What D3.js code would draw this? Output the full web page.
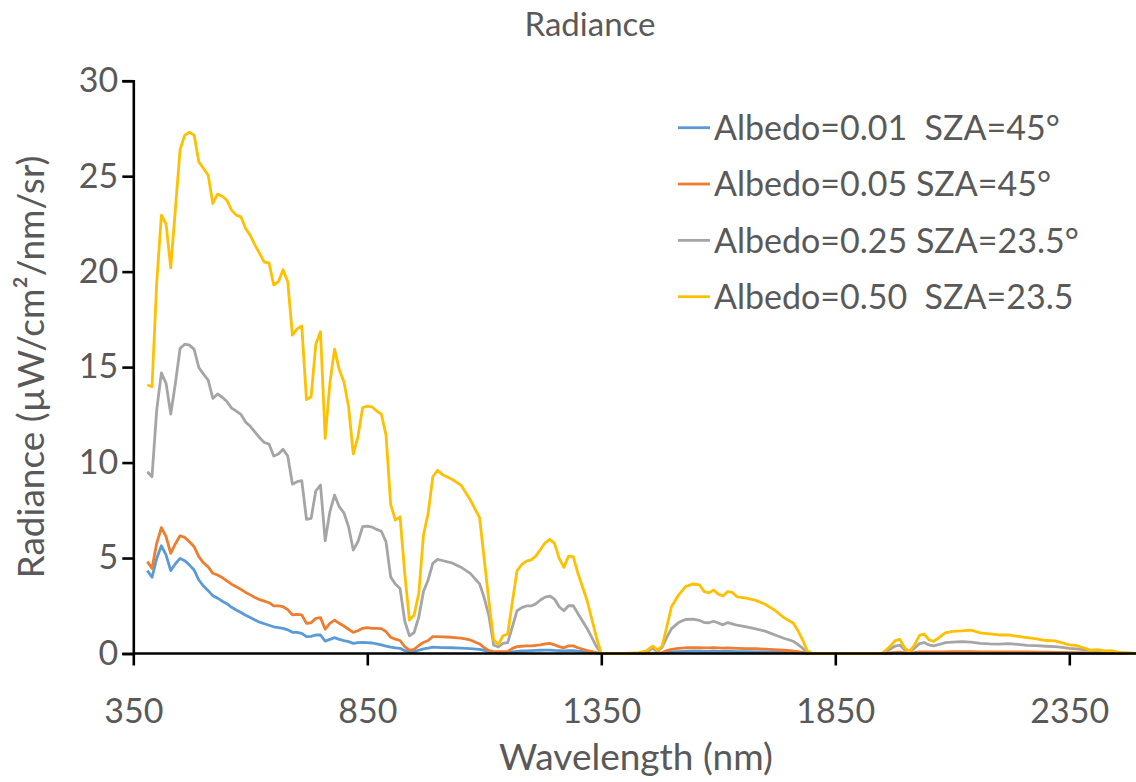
<!DOCTYPE html>
<html>
<head>
<meta charset="utf-8">
<script src="https://cdn.jsdelivr.net/npm/d3@7"></script>
<style>
  body { margin: 0; background: #fff; }
  text { font-family: Lato, "Open Sans", sans-serif; fill: #595959; }
</style>
</head>
<body>
<script>
// wavelength grid (nm), shared by all four series
const wavelength = [
  380,390,400,410,420,430,440,450,460,470,480,490,500,510,520,530,540,550,560,570,
  580,590,600,610,620,630,640,650,660,670,680,690,700,710,720,730,740,750,760,770,
  780,790,800,810,820,830,840,850,860,870,880,890,900,910,920,930,940,950,960,970,
  980,990,1000,1010,
  1030,1050,1070,1090,
  1100,1110,1120,1130,1140,1150,1160,1170,1180,1190,1200,1210,1220,1230,1240,1250,1260,1270,1280,1290,1300,
  1320,1340,1350,
  1400,1430,1445,1460,1470,1480,1490,1500,1515,1530,1545,1560,1570,1580,1590,1600,1610,1620,1630,1640,
  1660,1680,1700,1720,1740,1760,1770,1780,1790,1800,
  1950,1965,1978,1988,1998,2008,2018,2030,2040,2050,2060,2070,2085,2100,2120,2140,2160,2180,2200,2220,
  2240,2260,2280,2300,2320,2335,2350,2365,2380,2395,2410,2425,2440,2455,2470,2490,2500
];

const albedo001 = [
  4.34,3.99,4.98,5.64,5.16,4.34,4.7,4.98,4.86,4.63, 4.37,3.85,3.53,3.29,3.02,2.9,2.74,2.61,2.42,2.28,
  2.15,2.0,1.88,1.75,1.64,1.56,1.48,1.4,1.36,1.32, 1.24,1.11,1.11,1.06,0.88,0.9,0.97,0.97,0.65,0.74,
  0.83,0.74,0.67,0.62,0.53,0.57,0.58,0.57,0.55,0.5, 0.45,0.39,0.33,0.3,0.27,0.15,0.1,0.1,0.17,0.24,
  0.28,0.33,0.32,0.31,
  0.3,0.28,0.26,0.22,
  0.16,0.1,0.05,0.03,0.04,0.05,0.08,0.11,0.13,0.14,0.15,0.16,0.17,0.18,0.18,0.16,0.15,0.14,0.15,0.15,0.12,
  0.08,0.02,0,
  0,0,0,0.01,0.01,0.02,0.05,0.08,0.1,0.11, 0.12,0.12,0.11,0.11,0.12,0.11,0.11,0.11,0.11,0.1,
  0.1,0.09,0.09,0.08,0.07,0.05,0.04,0.02,0.01,0,
  0,0.01,0.02,0.02,0.01,0.01,0.01,0.02,0.03,0.02, 0.02,0.02,0.03,0.03,0.03,0.03,0.03,0.03,0.03,0.03,
  0.03,0.02,0.02,0.02,0.02,0.02,0.02,0.01,0.01,0.01, 0.01,0.01,0,0,0,0,0
];

const albedo005 = [
  4.81,4.46,5.77,6.59,6.12,5.25,5.75,6.17,6.08,5.85, 5.59,5.07,4.75,4.54,4.2,4.11,3.98,3.8,3.63,3.5,
  3.36,3.2,3.07,2.93,2.82,2.74,2.66,2.49,2.49,2.45, 2.3,2.02,2.05,2.02,1.58,1.61,1.84,1.88,1.27,1.58,
  1.75,1.58,1.44,1.27,1.11,1.19,1.32,1.35,1.32,1.32, 1.3,1.15,0.85,0.75,0.68,0.36,0.18,0.22,0.42,0.58,
  0.68,0.88,0.88,0.87,
  0.85,0.8,0.71,0.5,
  0.3,0.15,0.1,0.1,0.1,0.1,0.27,0.36,0.38,0.4,0.4,0.42,0.45,0.5,0.53,0.45,0.36,0.3,0.4,0.4,0.3,
  0.15,0.04,0,
  0,0,0,0.02,0.02,0.05,0.15,0.22,0.27,0.3, 0.31,0.3,0.29,0.29,0.3,0.29,0.28,0.29,0.28,0.27,
  0.26,0.25,0.23,0.2,0.17,0.13,0.1,0.06,0.02,0,
  0,0.03,0.06,0.07,0.04,0.03,0.05,0.08,0.09,0.08, 0.08,0.08,0.09,0.1,0.1,0.1,0.09,0.09,0.09,0.09,
  0.08,0.08,0.07,0.07,0.06,0.06,0.05,0.05,0.04,0.03, 0.03,0.02,0.02,0.01,0.01,0,0
];

const albedo025 = [
  9.52,9.26,12.75,14.7,14.15,12.54,14.15,15.98,16.2,16.15, 15.93,14.98,14.63,14.32,13.36,13.59,13.42,13.2,12.85,12.7,
  12.52,12.12,11.9,11.6,11.3,11.05,10.97,10.34,10.45,10.7, 10.34,8.87,9.0,9.05,7.03,7.08,8.52,8.82,5.9,7.42,
  8.3,7.69,7.37,6.64,5.42,5.85,6.64,6.67,6.62,6.5, 6.4,5.85,4.0,3.64,3.4,1.7,0.92,1.1,1.9,3.25,
  3.85,4.72,4.93,4.87,
  4.75,4.52,4.2,3.65,
  2.9,1.95,0.45,0.34,0.53,0.57,1.4,2.24,2.4,2.49,2.49,2.6,2.8,2.95,3.01,2.85,2.45,2.24,2.5,2.5,2.1,
  1.3,0.35,0,
  0,0.02,0.05,0.27,0.1,0.33,0.85,1.3,1.62,1.78, 1.8,1.73,1.62,1.61,1.69,1.6,1.5,1.62,1.55,1.48,
  1.4,1.29,1.17,0.98,0.8,0.64,0.48,0.28,0.05,0,
  0,0.2,0.39,0.44,0.2,0.1,0.25,0.52,0.57,0.45, 0.4,0.46,0.57,0.6,0.62,0.6,0.53,0.5,0.49,0.52,
  0.48,0.43,0.41,0.38,0.36,0.32,0.27,0.24,0.2,0.16, 0.13,0.11,0.08,0.05,0.03,0,0
];

const albedo050 = [
  14.06,13.97,19.4,22.96,22.5,20.2,23.3,26.4,27.15,27.3, 27.15,25.75,25.4,25.05,23.57,24.06,23.95,23.74,23.22,22.96,
  22.87,22.26,21.9,21.39,20.95,20.5,20.46,19.3,19.47,20.1, 19.47,16.67,17.0,17.15,13.3,13.45,16.2,16.85,11.27,14.15,
  15.94,14.88,14.23,12.92,10.45,11.35,12.87,12.96,12.92,12.7, 12.54,11.44,7.8,6.99,7.16,4.2,1.75,2.0,3.15,6.2,
  7.34,9.26,9.6,9.38,
  9.14,8.82,8.05,7.1,
  4.9,2.7,0.71,0.48,0.93,1.02,2.71,4.34,4.65,4.84,4.9,5.1,5.45,5.8,5.98,5.77,4.98,4.51,5.1,5.07,4.2,
  2.75,0.8,0,
  0,0.05,0.12,0.39,0.18,0.39,1.4,2.45,3.06,3.5, 3.64,3.59,3.24,3.18,3.32,3.11,3.01,3.24,3.2,2.97,
  2.9,2.78,2.58,2.28,1.88,1.6,1.2,0.72,0.15,0,
  0,0.33,0.67,0.74,0.3,0.1,0.4,0.95,1.02,0.72, 0.64,0.8,1.08,1.16,1.18,1.22,1.08,1.03,0.97,0.98,
  0.9,0.83,0.77,0.68,0.66,0.56,0.45,0.42,0.3,0.18, 0.2,0.14,0.15,0.06,0.03,0,0
];

const seriesNames = [
  "Albedo=0.01  SZA=45°",
  "Albedo=0.05 SZA=45°",
  "Albedo=0.25 SZA=23.5°",
  "Albedo=0.50  SZA=23.5"
];
const seriesValues = [albedo001, albedo005, albedo025, albedo050];
const colors = ["#5B9BD5", "#ED7D31", "#A5A5A5", "#FFC000"];

const xTicks = [350, 850, 1350, 1850, 2350];
const yTicks = [0, 5, 10, 15, 20, 25, 30];

const w = 1136;
const h = 782;

const svg = d3.select("body")
  .append("svg")
  .attr("width", w)
  .attr("height", h);

const x = d3.scaleLinear().domain([350, 2500]).range([133.3, 1139.5]);
const y = d3.scaleLinear().domain([0, 30]).range([653.5, 80.7]);

// title
svg.append("text")
  .attr("x", 590).attr("y", 36)
  .attr("text-anchor", "middle")
  .style("font-size", "33px")
  .text("Radiance");

// series lines
const line = d3.line()
  .x(d => x(d[0]))
  .y(d => y(d[1]));

seriesValues.forEach((vals, i) => {
  const pts = wavelength.map((wl, j) => [wl, vals[j]]);
  svg.append("path")
    .datum(pts)
    .attr("fill", "none")
    .attr("stroke", colors[i])
    .attr("stroke-width", 2.8)
    .attr("stroke-linejoin", "round")
    .attr("d", line);
});

// axes
const yAxis = svg.append("g")
  .attr("transform", `translate(${x(350)},0)`)
  .call(d3.axisLeft(y).tickValues(yTicks).tickSize(11).tickPadding(4));

const xAxis = svg.append("g")
  .attr("transform", `translate(0,${y(0)})`)
  .call(d3.axisBottom(x).tickValues(xTicks).tickFormat(d3.format("d")).tickSize(12).tickPadding(33));

[xAxis, yAxis].forEach(g => {
  g.select(".domain").attr("stroke", "#000").attr("stroke-width", 2.6);
  g.selectAll(".tick line").attr("stroke", "#000").attr("stroke-width", 2.6);
  g.selectAll(".tick text")
    .style("font-family", "Lato, sans-serif")
    .style("font-size", "34px")
    .attr("fill", "#595959");
});
xAxis.select(".domain").attr("d", `M${x(350)},0H${w}`);

// axis titles
svg.append("text")
  .attr("x", 636).attr("y", 770)
  .attr("text-anchor", "middle")
  .style("font-size", "37px")
  .text("Wavelength (nm)");

svg.append("text")
  .attr("transform", "translate(44,367) rotate(-90)")
  .attr("text-anchor", "middle")
  .style("font-size", "37px")
  .text("Radiance (µW/cm²/nm/sr)");

// legend
const legend = svg.append("g");
const rowY = d3.scaleLinear().domain([0, 3]).range([127.7, 296.7]);
seriesNames.forEach((name, i) => {
  legend.append("line")
    .attr("x1", 678).attr("x2", 710)
    .attr("y1", rowY(i)).attr("y2", rowY(i))
    .attr("stroke", colors[i])
    .attr("stroke-width", 2.8);
  legend.append("text")
    .attr("x", 714).attr("y", rowY(i))
    .attr("dy", "0.36em")
    .style("font-size", "34px")
    .style("white-space", "pre")
    .text(name);
});
</script>
</body>
</html>
